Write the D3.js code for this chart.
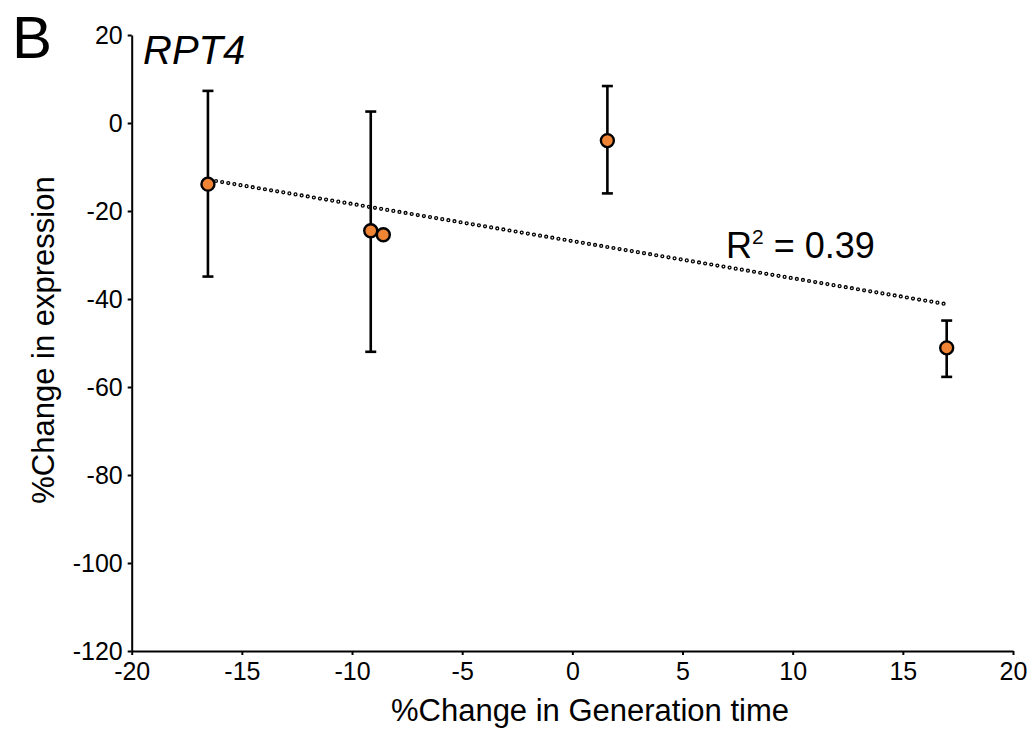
<!DOCTYPE html>
<html lang="en">
<head>
	<meta charset="utf-8">
	<title>RPT4</title>
	<style>
		body { margin: 0; background: #fff; }
		text { font-family: "Liberation Sans", Arial, sans-serif; fill: #000; }
		.axis path, .axis line { stroke: #000; stroke-width: 2px; }
	</style>
</head>
<body>
	<div id="chart"></div>

	<script src="https://d3js.org/d3.v7.min.js"></script>
	<script>
		// values
		var genTime  = [-16.54, -9.15, -8.58, 1.59, 16.99];
		var exprChg  = [-13.9, -24.5, -25.4, -4.0, -51.1];
		var errHigh  = [7.3, 2.6, null, 8.4, -44.9];
		var errLow   = [-34.9, -52.0, null, -16.0, -57.7];
		var fitX     = [-16.45, 16.89];
		var fitY     = [-12.95, -41.1];
		var xTicks   = [-20, -15, -10, -5, 0, 5, 10, 15, 20];
		var yTicks   = [20, 0, -20, -40, -60, -80, -100, -120];

		var width = 1036,
		    height = 731;

		var svg = d3.select("#chart")
				.append("svg")
				.attr("width", width)
				.attr("height", height);

		var x = d3.scaleLinear().domain([-20, 20]).range([131.7, 1013]);
		var y = d3.scaleLinear().domain([-120, 20]).range([651, 35]);

		// plain hyphen for negatives, like the original
		var fmt = function(d) { return String(d); };

		var points = genTime.map(function(d, i) {
			return { x: d, y: exprChg[i], hi: errHigh[i], lo: errLow[i] };
		});

		// axes
		var xAxis = svg.append("g")
				.attr("class", "axis")
				.attr("transform", "translate(0," + y(-120) + ")")
				.call(d3.axisBottom(x).tickValues(xTicks).tickFormat(fmt).tickSize(4).tickPadding(7).tickSizeOuter(0));
		xAxis.selectAll("text").style("font-size", "25px");

		var yAxis = svg.append("g")
				.attr("class", "axis")
				.attr("transform", "translate(" + x(-20) + ",0)")
				.call(d3.axisLeft(y).tickValues(yTicks).tickFormat(fmt).tickSize(4).tickPadding(5).tickSizeOuter(0));
		yAxis.selectAll("text").style("font-size", "25px");

		// trend line, drawn as small hollow dots
		var fit = fitX.map(function(d, i) { return [x(d), y(fitY[i])]; });
		var fitLine = d3.line();
		svg.append("path")
			.attr("d", fitLine(fit))
			.attr("fill", "none")
			.attr("stroke", "#000")
			.attr("stroke-width", 4.2)
			.attr("stroke-linecap", "round")
			.attr("stroke-dasharray", "0 6.2");
		svg.append("path")
			.attr("d", fitLine(fit))
			.attr("fill", "none")
			.attr("stroke", "#fff")
			.attr("stroke-width", 1.6)
			.attr("stroke-linecap", "round")
			.attr("stroke-dasharray", "0 6.2");

		// error bars
		var bars = svg.selectAll(".err")
				.data(points.filter(function(d) { return d.hi != null; }))
			.enter().append("g")
				.attr("class", "err")
				.attr("stroke", "#000")
				.attr("stroke-width", 2.6);
		bars.append("line")
			.attr("x1", function(d) { return x(d.x); })
			.attr("x2", function(d) { return x(d.x); })
			.attr("y1", function(d) { return y(d.hi); })
			.attr("y2", function(d) { return y(d.lo); });
		bars.append("line")
			.attr("x1", function(d) { return x(d.x) - 5.5; })
			.attr("x2", function(d) { return x(d.x) + 5.5; })
			.attr("y1", function(d) { return y(d.hi); })
			.attr("y2", function(d) { return y(d.hi); });
		bars.append("line")
			.attr("x1", function(d) { return x(d.x) - 5.5; })
			.attr("x2", function(d) { return x(d.x) + 5.5; })
			.attr("y1", function(d) { return y(d.lo); })
			.attr("y2", function(d) { return y(d.lo); });

		// points
		svg.selectAll(".pt")
			.data(points)
		.enter().append("circle")
			.attr("class", "pt")
			.attr("cx", function(d) { return x(d.x); })
			.attr("cy", function(d) { return y(d.y); })
			.attr("r", 6.5)
			.attr("fill", "#ee8434")
			.attr("stroke", "#000")
			.attr("stroke-width", 2.4);

		// labels
		svg.append("text")
			.attr("x", 590)
			.attr("y", 721)
			.attr("text-anchor", "middle")
			.style("font-size", "31px")
			.text("%Change in Generation time");

		svg.append("text")
			.attr("transform", "translate(54," + 340 + ") rotate(-90)")
			.attr("text-anchor", "middle")
			.style("font-size", "31px")
			.text("%Change in expression");

		svg.append("text")
			.attr("x", 12)
			.attr("y", 58)
			.style("font-size", "60px")
			.text("B");

		svg.append("text")
			.attr("x", 143)
			.attr("y", 64)
			.style("font-size", "40px")
			.style("font-style", "italic")
			.text("RPT4");

		var r2 = svg.append("text")
			.attr("x", 726)
			.attr("y", 258)
			.style("font-size", "36px");
		r2.append("tspan").text("R");
		r2.append("tspan").attr("dy", -14).style("font-size", "21px").text("2");
		r2.append("tspan").attr("dy", 14).text(" = 0.39");
	</script>
</body>
</html>
